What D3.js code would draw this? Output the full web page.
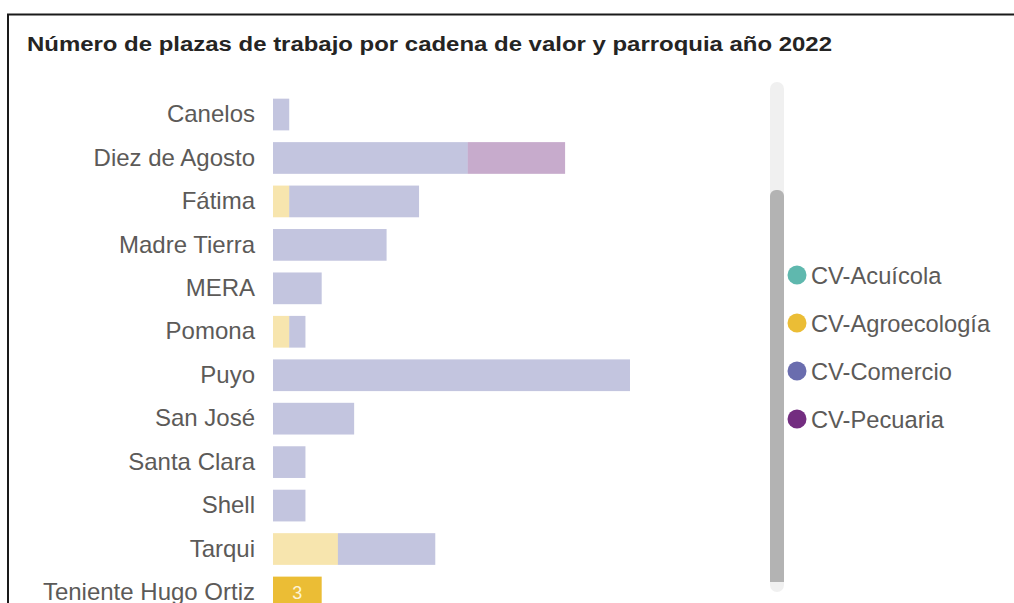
<!DOCTYPE html>
<html>
<head>
<meta charset="utf-8">
<script src="https://cdn.jsdelivr.net/npm/d3@7"></script>
<style>
  html, body { margin: 0; padding: 0; background: #fff; overflow: hidden; }
  svg { display: block; font-family: "Liberation Sans", Arial, sans-serif; }
</style>
</head>
<body>
<svg id="chart" width="1014" height="603"></svg>
<script>
// Parroquias (vertical axis)
const parroquias = ["Canelos", "Diez de Agosto", "Fátima", "Madre Tierra", "MERA", "Pomona",
  "Puyo", "San José", "Santa Clara", "Shell", "Tarqui", "Teniente Hugo Ortiz"];

// Job positions by value chain, one value per parroquia
const acuicola     = [0, 0, 0, 0, 0, 0, 0, 0, 0, 0, 0, 0];
const agroecologia = [0, 0, 1, 0, 0, 1, 0, 0, 0, 0, 4, 3];
const comercio     = [1, 12, 8, 7, 3, 1, 22, 5, 2, 2, 6, 0];
const pecuaria     = [0, 6, 0, 0, 0, 0, 0, 0, 0, 0, 0, 0];

const seriesNames = ["CV-Acuícola", "CV-Agroecología", "CV-Comercio", "CV-Pecuaria"];
const seriesColors = ["#5FB8AE", "#EBBD35", "#6A6DAE", "#732D80"];
const selected = "Teniente Hugo Ortiz";

const title = "Número de plazas de trabajo por cadena de valor y parroquia año 2022";

const rows = parroquias.map((p, i) => ({
  parroquia: p,
  "CV-Acuícola": acuicola[i],
  "CV-Agroecología": agroecologia[i],
  "CV-Comercio": comercio[i],
  "CV-Pecuaria": pecuaria[i]
}));

const svg = d3.select("#chart");

// Visual frame
svg.append("rect")
  .attr("x", 8).attr("y", 14.5)
  .attr("width", 1030).attr("height", 640)
  .attr("fill", "none").attr("stroke", "#1a1a1a").attr("stroke-width", 2);

// Title
svg.append("text")
  .attr("x", 27).attr("y", 51)
  .attr("font-size", 20).attr("font-weight", "bold")
  .attr("fill", "#252423")
  .attr("textLength", 805).attr("lengthAdjust", "spacingAndGlyphs")
  .text(title);

const x = d3.scaleLinear().domain([0, 22]).range([273, 630]);
const y = d3.scaleBand().domain(parroquias).range([92.8, 614.2])
  .paddingInner(0.27).paddingOuter(0.135);

const stacked = d3.stack().keys(seriesNames)(rows);

const layers = svg.append("g").selectAll("g")
  .data(stacked).join("g")
  .attr("fill", (d, i) => seriesColors[i]);

layers.selectAll("rect")
  .data(d => d.filter(s => s[1] - s[0] > 0))
  .join("rect")
  .attr("x", d => x(d[0]))
  .attr("width", d => x(d[1]) - x(d[0]))
  .attr("y", d => y(d.data.parroquia))
  .attr("height", y.bandwidth())
  .attr("fill-opacity", d => d.data.parroquia === selected ? 1 : 0.4);

// Data label on the highlighted bar
stacked.forEach((layer, i) => {
  layer.filter(s => s.data.parroquia === selected && s[1] - s[0] > 0).forEach(s => {
    svg.append("text")
      .attr("x", (x(s[0]) + x(s[1])) / 2)
      .attr("y", y(s.data.parroquia) + y.bandwidth() / 2)
      .attr("dy", "0.36em")
      .attr("text-anchor", "middle")
      .attr("font-size", 18)
      .attr("fill", "#fdf3d6")
      .text(s[1] - s[0]);
  });
});

// Category axis labels
const yAxis = d3.axisLeft(y).tickSize(0).tickPadding(18);
const gy = svg.append("g").attr("transform", "translate(273,0)").call(yAxis);
gy.select(".domain").remove();
gy.selectAll("text")
  .attr("font-size", 24)
  .attr("font-family", "'Liberation Sans', Arial, sans-serif")
  .attr("fill", "#5c5a58");

// Legend scrollbar
svg.append("rect")
  .attr("x", 770).attr("y", 82).attr("width", 14).attr("height", 510)
  .attr("rx", 7).attr("fill", "#f0f0f0");
svg.append("rect")
  .attr("x", 770).attr("y", 190).attr("width", 14).attr("height", 392)
  .attr("rx", 6).attr("fill", "#b3b3b3");
svg.append("rect")
  .attr("x", 770).attr("y", 575).attr("width", 14).attr("height", 7)
  .attr("fill", "#b3b3b3");

// Legend
const legend = svg.append("g").selectAll("g")
  .data(seriesNames).join("g")
  .attr("transform", (d, i) => `translate(797,${275 + i * 48})`);
legend.append("circle").attr("r", 9.5).attr("fill", (d, i) => seriesColors[i]);
legend.append("text")
  .attr("x", 14).attr("dy", "0.36em")
  .attr("font-size", 23.7).attr("fill", "#5c5a58")
  .text(d => d);
</script>
</body>
</html>
